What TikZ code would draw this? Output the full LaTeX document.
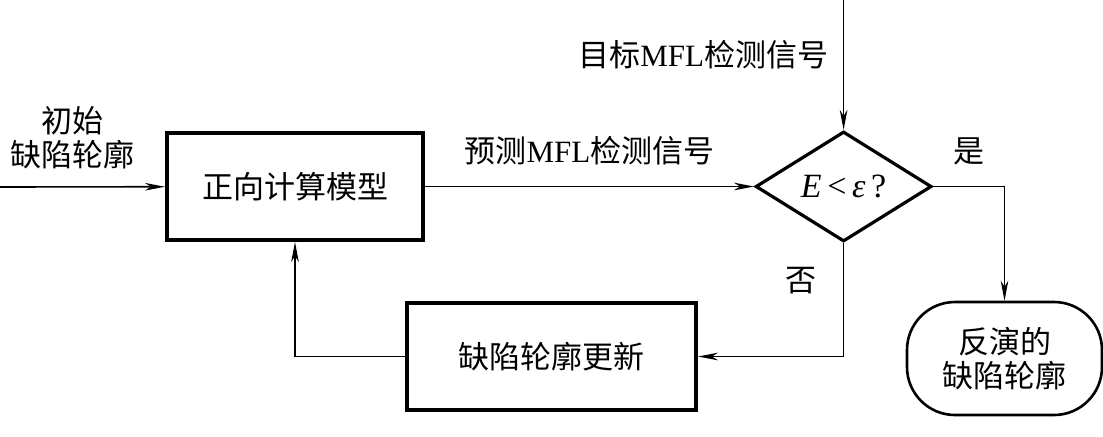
\documentclass[tikz,border=0pt]{standalone}
\usepackage{fontspec}
\setmainfont{Liberation Serif}
\newfontfamily\cjk{Noto Sans CJK SC}
\usepackage{tikz}
\usetikzlibrary{positioning,arrows.meta,shapes.geometric}

\begin{document}
\begin{tikzpicture}[
  >={Stealth[length=10pt,width=3.8pt,inset=3pt]},
  font=\cjk\fontsize{15.5}{17}\selectfont,
  block/.style={draw, line width=2pt, inner sep=0pt, align=center, minimum width=144.5pt, minimum height=53.5pt},
  decision/.style={draw, diamond, line width=1.6pt, inner sep=0pt, minimum width=88pt, minimum height=55pt},
  terminal/.style={draw, rounded corners=24pt, line width=1.3pt, inner sep=0pt, align=center, minimum width=97.5pt, minimum height=56.5pt},
  arrow/.style={->, line width=0.8pt}
]
\useasboundingbox (0,0) rectangle (551.5pt,-218pt);

\node[block, minimum width=128pt] (model) at (147.5pt,-93.25pt) {正向计算模型};
\node[decision, right=164.5pt of model] (check) {\rmfamily\fontsize{17}{17}\selectfont\itshape E\/\,{\upshape<}\,ε\/\,{\upshape ?}};
\node[block] (update) at (275.75pt,-178.25pt) {缺陷轮廓更新};
\node[terminal] (result) at (502.25pt,-179.25pt) {反演的\\缺陷轮廓};

\coordinate (start) at (0,-93.5pt);
\coordinate (target) at (check.north |- 0,0);

\draw[arrow] (start) -- node[pos=0.44, above=5pt, align=center] {初始\\缺陷轮廓} (model);
\draw[arrow] (model) -- node[above=7pt] {预测{\rmfamily MFL}检测信号} (check);
\draw[arrow] (target) -- node[pos=0.42, left=4pt] {目标{\rmfamily MFL}检测信号} (check.north);
\draw[arrow] (check.east) -| node[pos=0.25, above=7pt] {是} (result.north);
\draw[arrow] (check.south) |- node[pos=0.165, left=10pt] {否} (update.east);
\draw[arrow] (update.west) -| (model.south);
\end{tikzpicture}
\end{document}
